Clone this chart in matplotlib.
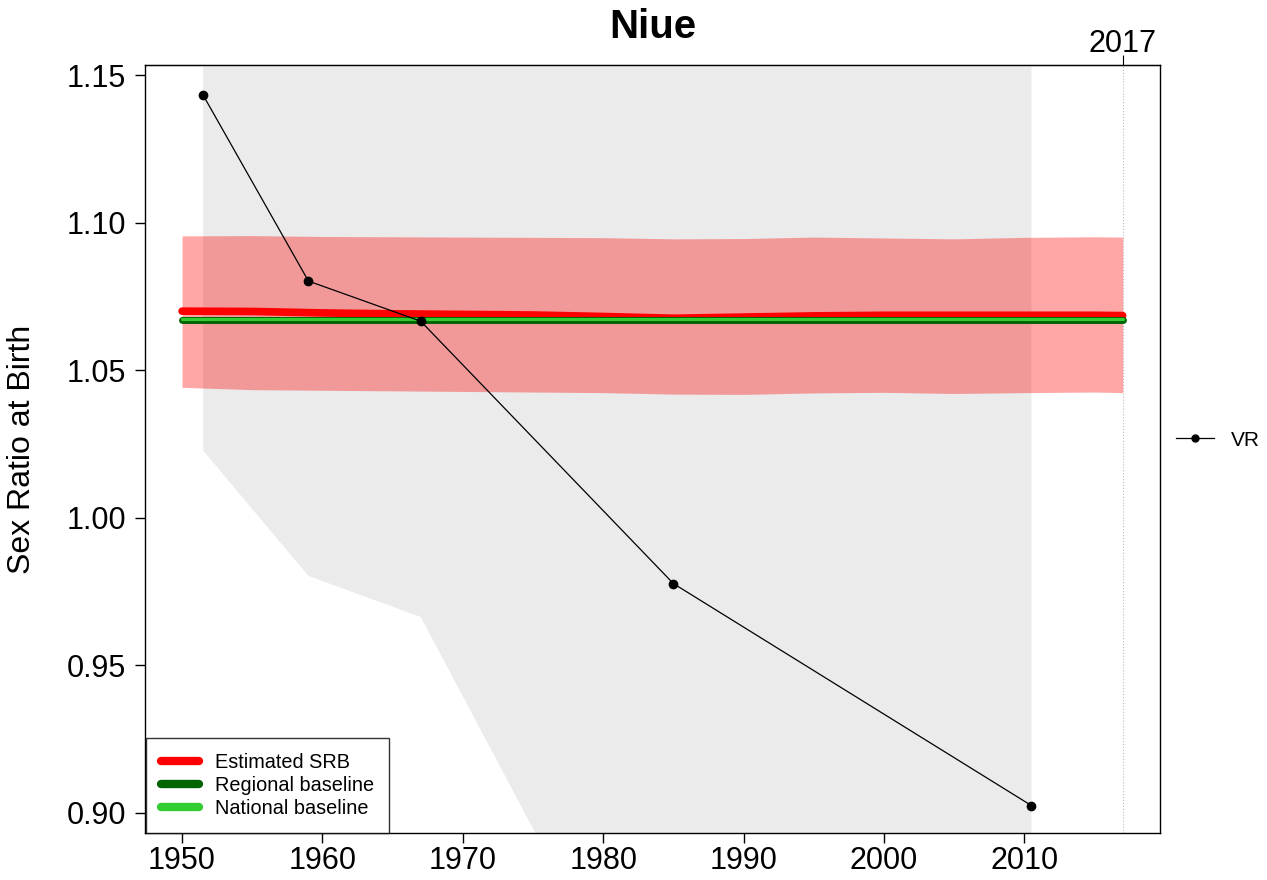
import numpy as np
import matplotlib
matplotlib.use("Agg")
import matplotlib.pyplot as plt
from matplotlib.lines import Line2D

plt.rcParams['font.family'] = ['Liberation Sans', 'DejaVu Sans']

# ---------------------------------------------------------- data
vr_years = [1951.5, 1959.0, 1967.0, 1985.0, 2010.5]
vr_srb = [1.1432, 1.0802, 1.0666, 0.9777, 0.9025]
vr_upper = [1.27, 1.20, 1.185, 1.17, 1.16]
vr_lower = [1.0228, 0.9803, 0.9664, 0.805, 0.70]

est_years = [1950, 1955, 1960, 1965, 1970, 1975, 1980, 1985, 1990, 1995, 2000, 2005, 2010, 2015, 2017]
est_srb = [1.0700, 1.0699, 1.0694, 1.0691, 1.0689, 1.0687, 1.0682, 1.0676, 1.0680, 1.0684, 1.0686, 1.0686, 1.0686, 1.0686, 1.0685]
est_upper = [1.0955, 1.0956, 1.0953, 1.0952, 1.0951, 1.0950, 1.0949, 1.0945, 1.0946, 1.0951, 1.0948, 1.0945, 1.0950, 1.0952, 1.0951]
est_lower = [1.0442, 1.0434, 1.0432, 1.0430, 1.0428, 1.0426, 1.0424, 1.0419, 1.0418, 1.0423, 1.0425, 1.0421, 1.0424, 1.0426, 1.0424]
regional_baseline = 1.0671
national_baseline = 1.0675
proj_year = 2017

# ---------------------------------------------------------- plot
fig = plt.figure(figsize=(12.67, 8.8), dpi=100)
ax = fig.add_axes([145/1267, 1-833/880, (1160-145)/1267, (833-65)/880])

ax.fill_between(vr_years, vr_lower, vr_upper, color='#EBEBEB', lw=0, zorder=1)
ax.fill_between(est_years, est_lower, est_upper, color='#FF0000', alpha=0.35, lw=0, zorder=2)
ax.plot(est_years, est_srb, color='#FF0000', lw=5.5, solid_capstyle='round', zorder=3)
ax.plot([est_years[0], est_years[-1]], [regional_baseline]*2, color='#006400', lw=5,
        solid_capstyle='round', zorder=4)
ax.plot([est_years[0], est_years[-1]], [national_baseline]*2, color='#32CD32', lw=2.2,
        solid_capstyle='round', zorder=5)
ax.plot(vr_years, vr_srb, color='black', lw=0.9, marker='o', ms=6, zorder=6)
ax.axvline(proj_year, color='#BBBBBB', lw=0.8, ls=':', zorder=0.5)

ax.set_xlim(1947.36, 2019.66)
ax.set_ylim(0.8932, 1.1534)
ax.set_xticks([1950, 1960, 1970, 1980, 1990, 2000, 2010])
ax.set_yticks([0.90, 0.95, 1.00, 1.05, 1.10, 1.15])
ax.set_yticklabels(['0.90', '0.95', '1.00', '1.05', '1.10', '1.15'])
ax.tick_params(axis='both', direction='out', length=7.5, width=1, labelsize=22)
ax.tick_params(axis='y', pad=6)
ax.tick_params(axis='x', pad=2)
for s in ax.spines.values():
    s.set_linewidth(1)
ax.set_ylabel('Sex Ratio at Birth', fontsize=23)
ax.yaxis.set_label_coords(-(145-37)/1015, 0.5)
fig.text(0.5 * (145 + 1160) / 1267, 1 - 27/880, 'Niue', fontsize=29, fontweight='bold',
         ha='center', va='center')

top = ax.secondary_xaxis('top')
top.set_xticks([proj_year])
top.set_xticklabels([str(proj_year)])
top.tick_params(direction='out', length=7.5, labelsize=22, pad=-3)

handles = [Line2D([], [], color='#FF0000', lw=6, solid_capstyle='round'),
           Line2D([], [], color='#006400', lw=6, solid_capstyle='round'),
           Line2D([], [], color='#32CD32', lw=6, solid_capstyle='round')]
leg = ax.legend(handles, ['Estimated SRB', 'Regional baseline', 'National baseline'],
                loc='lower left', bbox_to_anchor=(0.001, 0.0), fontsize=14.3, frameon=True,
                fancybox=False, edgecolor='black', handlelength=1.9, borderaxespad=0,
                labelspacing=0.2, borderpad=0.75, handletextpad=0.8)
leg.get_frame().set_linewidth(1)
leg.set_zorder(10)

vr_handle = [Line2D([], [], color='black', lw=0.9, marker='o', ms=5)]
fig.legend(vr_handle, ['VR'], loc='center left', bbox_to_anchor=(1176/1267, 1-440/880),
           frameon=False, fontsize=15, handlelength=1.8, handletextpad=0.85,
           borderpad=0, borderaxespad=0)

fig.savefig('out.png', dpi=100)
